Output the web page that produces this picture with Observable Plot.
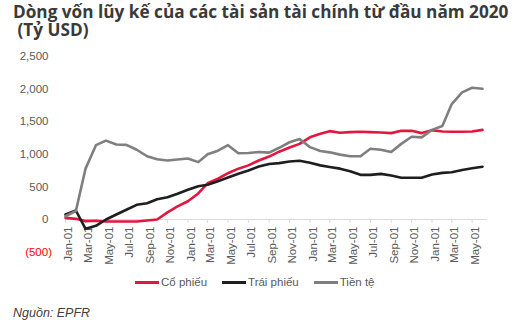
<!DOCTYPE html>
<html><head><meta charset="utf-8">
<script src="https://cdn.jsdelivr.net/npm/d3@7"></script>
<script src="https://cdn.jsdelivr.net/npm/@observablehq/plot@0.6"></script>
<style>
body{margin:0;width:525px;height:326px;position:relative;background:#fff;overflow:hidden;font-family:"Liberation Sans",Arial,sans-serif}
#title{position:absolute;left:13px;top:3px;font-family:"Open Sans",sans-serif;font-weight:700;font-size:17.2px;line-height:18px;color:#3a3a3a;white-space:pre}
#chart{position:absolute;left:0;top:40px}
#legend{position:absolute;top:274px;left:135px;display:flex;align-items:center;gap:15px;font-size:11.5px;color:#595959;line-height:16px}
#legend .item{display:flex;align-items:center;gap:2px}
#legend .sw{display:inline-block;width:24px;height:3px}
#source{position:absolute;left:13px;top:306px;font-style:italic;font-size:12.5px;color:#404040}
</style></head>
<body>
<div id="title">Dòng vốn lũy kế của các tài sản tài chính từ đầu năm 2020
 (Tỷ USD)</div>
<div id="chart"></div>
<div id="legend"></div>
<div id="source">Nguồn: EPFR</div>
<script>
const months = ["2020-01","2020-02","2020-03","2020-04","2020-05","2020-06","2020-07","2020-08","2020-09","2020-10","2020-11","2020-12",
"2021-01","2021-02","2021-03","2021-04","2021-05","2021-06","2021-07","2021-08","2021-09","2021-10","2021-11","2021-12",
"2022-01","2022-02","2022-03","2022-04","2022-05","2022-06","2022-07","2022-08","2022-09","2022-10","2022-11","2022-12",
"2023-01","2023-02","2023-03","2023-04","2023-05","2023-06"];
const coPhieu = [25,10,-25,-20,-30,-30,-30,-30,-15,0,110,200,280,400,555,625,710,780,830,905,965,1040,1105,1160,1260,1315,1355,1330,1340,1345,1340,1335,1325,1360,1360,1325,1370,1350,1345,1345,1350,1375];
const traiPhieu = [77,138,-143,-97,0,77,149,225,250,311,342,394,455,511,532,587,644,701,751,813,850,865,890,900,870,830,805,780,740,685,685,700,675,640,640,640,690,715,725,760,785,810];
const tienTe = [50,130,780,1140,1210,1150,1145,1070,970,925,905,920,935,880,1000,1055,1140,1015,1020,1035,1025,1100,1185,1235,1110,1050,1030,995,970,970,1085,1070,1035,1160,1270,1260,1375,1435,1770,1950,2020,2005];
const seriesNames = ["Cổ phiếu","Trái phiếu","Tiền tệ"];
const seriesColors = ["#e3173d","#1e1e1e","#7f7f7f"];
const xTickMonths = ["2020-01","2020-03","2020-05","2020-07","2020-09","2020-11","2021-01","2021-03","2021-05","2021-07","2021-09","2021-11","2022-01","2022-03","2022-05","2022-07","2022-09","2022-11","2023-01","2023-03","2023-05"];
const yTicks = [-500,0,500,1000,1500,2000,2500];

const parse = d3.utcParse("%Y-%m");
const dates = months.map(parse);
const tickDates = xTickMonths.map(parse);
const fmtX = d3.utcFormat("%b-01");
const rows = (vals) => vals.map((v,i)=>({date: dates[i], value: v}));
const allSeries = [coPhieu, traiPhieu, tienTe];
const axisGray = "#595959";

const plot = Plot.plot({
  width: 525, height: 230,
  marginLeft: 65, marginRight: 43, marginTop: 16, marginBottom: 18.4,
  x: {type: "utc", domain: [dates[0], dates[dates.length-1]], axis: null},
  y: {domain: [-500, 2500], axis: null},
  style: {fontFamily: "'Liberation Sans', Arial, sans-serif", fontSize: "11.5px", background: "transparent"},
  marks: [
    Plot.ruleY([0], {stroke: "#d9d9d9", strokeWidth: 1, insetRight: -5}),
    Plot.ruleX(tickDates, {x: d=>d, y1: 0, y2: 0, insetBottom: -4, stroke: "#d9d9d9"}),
    Plot.text(tickDates, {x: d=>d, y: 0, text: d=>fmtX(d), rotate: -90, textAnchor: "end", dx: 3, dy: 7, fill: axisGray, fontSize: 11.5}),
    Plot.text(yTicks.filter(d=>d>=0), {y: d=>d, text: d=>d3.format(",")(d), frameAnchor: "left", textAnchor: "end", dx: -17, fill: axisGray, fontSize: 11.5}),
    Plot.text(yTicks.filter(d=>d<0), {y: d=>d, text: d=>`(${d3.format(",")(-d)})`, frameAnchor: "left", textAnchor: "end", dx: -13.5, fill: "#ff0000", fontSize: 11.5}),
    ...allSeries.map((s,k)=>Plot.line(rows(s), {x: "date", y: "value", stroke: seriesColors[k], strokeWidth: 2.6}))
  ]
});
document.getElementById("chart").appendChild(plot);

const legend = document.getElementById("legend");
seriesNames.forEach((n,k)=>{
  const it = document.createElement("div"); it.className = "item";
  const sw = document.createElement("span"); sw.className = "sw"; sw.style.background = seriesColors[k];
  const t = document.createElement("span"); t.textContent = n;
  it.appendChild(sw); it.appendChild(t); legend.appendChild(it);
});
</script>
</body></html>
